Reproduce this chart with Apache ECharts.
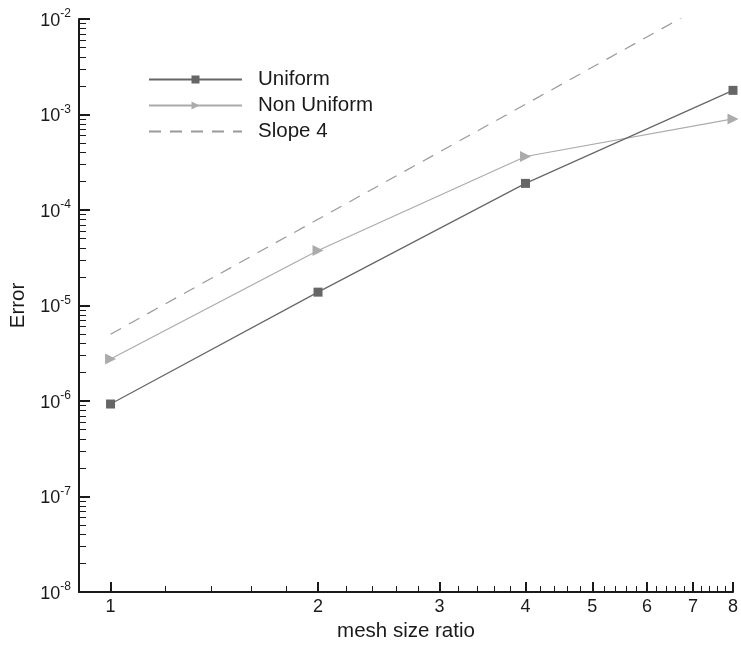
<!DOCTYPE html>
<html>
<head>
<meta charset="utf-8">
<script src="https://cdn.jsdelivr.net/npm/echarts@6/dist/echarts.min.js"></script>
<style>
  html, body { margin: 0; padding: 0; background: #fff; }
  #chart { width: 741px; height: 647px; }
</style>
</head>
<body>
<div id="chart"></div>
<script>
// Mesh size ratios and the errors measured on each mesh family
const meshRatio = [1, 2, 4, 8];
const uniformError = [9.3e-7, 1.38e-5, 1.9e-4, 1.79e-3];
const nonUniformError = [2.75e-6, 3.76e-5, 3.63e-4, 8.98e-4];
// Reference line of slope 4 (5e-6 * r^4)
const slopeError = [5e-6, 8e-5, 1.28e-3, 2.048e-2];

// Tick positions
const xMajorTicks = [1, 2, 3, 4, 5, 6, 7, 8];
const xMinorTicks = [1.2, 1.4, 1.6, 1.8, 2.2, 2.4, 2.6, 2.8, 3.2, 3.4, 3.6, 3.8,
  4.2, 4.4, 4.6, 4.8, 5.2, 5.4, 5.6, 5.8, 6.2, 6.4, 6.6, 6.8, 7.2, 7.4, 7.6, 7.8];
const yMajorTicks = [1e-8, 1e-7, 1e-6, 1e-5, 1e-4, 1e-3, 1e-2];
const yMinorTicks = [];
for (let e = -8; e < -2; e++) {
  for (let m = 2; m <= 9; m++) yMinorTicks.push(Number((m * Math.pow(10, e)).toPrecision(3)));
}

const pairs = (xs, ys) => xs.map((x, i) => [x, ys[i]]);

const FONT = '"Liberation Sans", Arial, Helvetica, sans-serif';
const INK = '#1a1a1a';
const TEXT_SIZE = 20.5;
const TICK_SIZE = 18;

const chart = echarts.init(document.getElementById('chart'), null, { renderer: 'canvas' });

const xRange = { type: 'log', logBase: 10, min: 0.9, max: 8 };
const yRange = { type: 'log', logBase: 10, min: 1e-8, max: 1e-2 };

chart.setOption({
  animation: false,
  backgroundColor: '#fff',
  grid: { left: 78, right: 3, top: 19, bottom: 49, containLabel: false },
  legend: {
    orient: 'vertical',
    left: 143,
    top: 64,
    itemWidth: 93,
    itemHeight: 10,
    itemGap: 5,
    selectedMode: false,
    textStyle: { fontFamily: FONT, fontSize: TEXT_SIZE, lineHeight: 20, color: INK, padding: [0, 0, 0, 11] },
    data: [
      { name: 'Uniform' },
      { name: 'Non Uniform' },
      { name: 'Slope 4', itemStyle: { color: 'rgba(0,0,0,0)', opacity: 0 } }
    ]
  },
  xAxis: [
    Object.assign({}, xRange, {
      position: 'bottom',
      name: 'mesh size ratio',
      nameLocation: 'middle',
      nameGap: 29,
      nameTextStyle: { fontFamily: FONT, fontSize: TEXT_SIZE, color: INK },
      axisLine: { show: true, lineStyle: { color: INK, width: 2 } },
      axisTick: { show: true, inside: true, length: 10, lineStyle: { color: INK, width: 2 }, customValues: xMajorTicks },
      axisLabel: { show: true, margin: 6, fontFamily: FONT, fontSize: TICK_SIZE, color: INK, customValues: xMajorTicks, formatter: v => String(Math.round(v)) },
      splitLine: { show: false },
      minorTick: { show: false }
    }),
    Object.assign({}, xRange, {
      position: 'bottom',
      axisLine: { show: false },
      axisTick: { show: true, inside: true, length: 6, lineStyle: { color: INK, width: 1 }, customValues: xMinorTicks },
      axisLabel: { show: false },
      splitLine: { show: false }
    })
  ],
  yAxis: [
    Object.assign({}, yRange, {
      position: 'left',
      name: 'Error',
      nameLocation: 'middle',
      nameGap: 50,
      nameRotate: 90,
      nameTextStyle: { fontFamily: FONT, fontSize: TEXT_SIZE, color: INK },
      axisLine: { show: true, lineStyle: { color: INK, width: 2 } },
      axisTick: { show: true, inside: true, length: 11, lineStyle: { color: INK, width: 2 }, customValues: yMajorTicks },
      axisLabel: {
        show: true, margin: 8, customValues: yMajorTicks,
        formatter: v => '{b|10}{s|' + Math.round(Math.log10(v)) + '}',
        rich: {
          b: { fontFamily: FONT, fontSize: TICK_SIZE, color: INK, lineHeight: 22, verticalAlign: 'bottom' },
          s: { fontFamily: FONT, fontSize: 12, color: INK, lineHeight: 22, verticalAlign: 'top', padding: [0, 0, 11, 0] }
        }
      },
      splitLine: { show: false }
    }),
    Object.assign({}, yRange, {
      position: 'left',
      axisLine: { show: false },
      axisTick: { show: true, inside: true, length: 7, lineStyle: { color: INK, width: 1 }, customValues: yMinorTicks },
      axisLabel: { show: false },
      splitLine: { show: false }
    })
  ],
  series: [
    {
      name: 'Uniform',
      type: 'line',
      xAxisIndex: 0, yAxisIndex: 0,
      data: pairs(meshRatio, uniformError),
      symbol: 'rect',
      symbolSize: 9,
      itemStyle: { color: '#666666' },
      lineStyle: { color: '#666666', width: 1.2 },
      z: 3
    },
    {
      name: 'Non Uniform',
      type: 'line',
      xAxisIndex: 0, yAxisIndex: 0,
      data: pairs(meshRatio, nonUniformError),
      symbol: 'triangle',
      symbolRotate: -90,
      symbolSize: 11,
      itemStyle: { color: '#ababab' },
      lineStyle: { color: '#ababab', width: 1.2 },
      z: 2
    },
    {
      name: 'Slope 4',
      type: 'line',
      xAxisIndex: 0, yAxisIndex: 0,
      data: pairs(meshRatio, slopeError),
      symbol: 'none',
      clip: true,
      itemStyle: { color: '#9a9a9a' },
      lineStyle: { color: '#9a9a9a', width: 1.2, type: [12, 9] },
      z: 1
    }
  ]
});
</script>
</body>
</html>
